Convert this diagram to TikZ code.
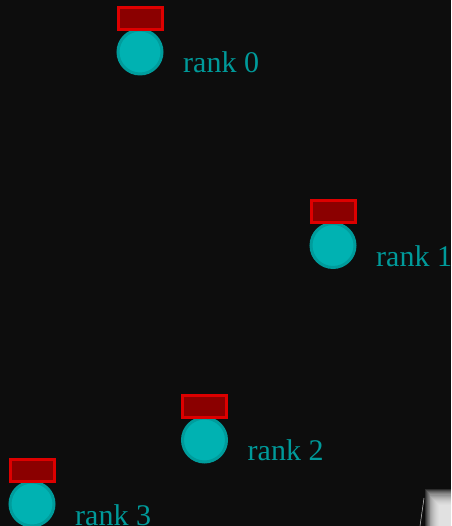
\documentclass[tikz,border=0pt]{standalone}
\usepackage{fontspec}
\setmainfont{Liberation Serif}
\definecolor{bg}{HTML}{0D0D0D}
\definecolor{tealfill}{HTML}{00B2B2}
\definecolor{tealedge}{HTML}{009C9C}
\definecolor{tealtext}{HTML}{009A9A}
\definecolor{redfill}{HTML}{8B0000}
\definecolor{rededge}{HTML}{DD0000}
\begin{document}
\begin{tikzpicture}[x=1pt,y=1pt,
  rankball/.style={circle,draw=tealedge,fill=tealfill,line width=3pt,minimum size=44pt,inner sep=0pt},
  rankbox/.style={rectangle,draw=rededge,fill=redfill,line width=3pt,minimum width=44pt,minimum height=22pt,inner sep=0pt},
  ranklabel/.style={anchor=base west,inner sep=0pt,text=tealtext,font=\fontsize{30}{36}\selectfont}]
\fill[bg] (0,0) rectangle (451,526);
\useasboundingbox (0,0) rectangle (451,526);
% white blurred shape, bottom right
\foreach \i in {0,...,15} {
  \fill[white,opacity=0.13] (425+\i*0.9,37-\i*1.1) rectangle (460,-5);
}
\draw[gray!35,line width=0.5pt] (420,0) -- (424,28);
% ranks
\foreach \n/\cx/\cy in {0/140/52, 1/333/245.5, 2/204.5/440, 3/32/504} {
  \node[rankball] (ball\n) at (\cx,526-\cy) {};
  \node[rankbox] (box\n) at (\cx,526-\cy+33.5) {};
  \node[ranklabel] (label\n) at (\cx+43,526-\cy-21) {rank \n};
}
\end{tikzpicture}
\end{document}
